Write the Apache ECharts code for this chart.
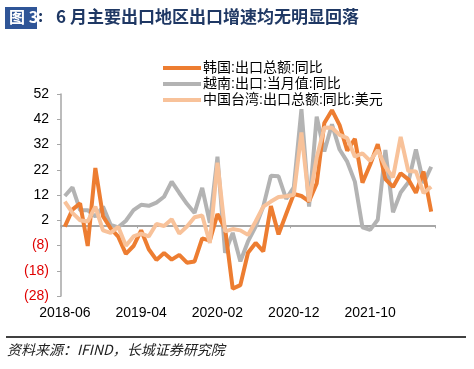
<!DOCTYPE html>
<html>
<head>
<meta charset="utf-8">
<script src="https://cdn.jsdelivr.net/npm/echarts@6/dist/echarts.min.js"></script>
<style>
html,body{margin:0;padding:0;background:#fff;}
#chart{width:474px;height:369px;}
</style>
</head>
<body>
<div id="chart"></div>
<script>
var months = ["2018-06","2018-07","2018-08","2018-09","2018-10","2018-11","2018-12",
"2019-01","2019-02","2019-03","2019-04","2019-05","2019-06","2019-07","2019-08","2019-09","2019-10","2019-11","2019-12",
"2020-01","2020-02","2020-03","2020-04","2020-05","2020-06","2020-07","2020-08","2020-09","2020-10","2020-11","2020-12",
"2021-01","2021-02","2021-03","2021-04","2021-05","2021-06","2021-07","2021-08","2021-09","2021-10","2021-11","2021-12",
"2022-01","2022-02","2022-03","2022-04","2022-05","2022-06"];

var korea = [-0.5,6.2,8.7,-8.2,22.7,3.6,-1.2,
-4.5,-11.3,-8.2,-2.0,-9.5,-13.7,-11.0,-13.6,-11.7,-14.8,-14.3,-5.2,
-6.1,4.5,-1.4,-25.1,-23.7,-10.9,-7.0,-10.3,7.6,-3.6,4.5,12.4,
11.6,9.5,16.6,40.5,45.6,39.7,29.6,34.2,16.9,24.0,32.1,18.3,
15.2,20.6,18.2,12.9,21.3,5.4];

var vietnam = [11.6,15.0,6.0,6.0,3.5,7.4,0.2,
-0.8,1.8,6.0,8.1,7.7,9.0,11.3,17.3,12.8,8.5,4.9,14.8,
1.0,27.2,-10.9,-3.0,-14.3,-6.4,-0.5,7.4,19.6,19.4,10.5,15.0,
46.0,7.4,43.0,29.2,40.0,30.0,25.2,17.3,-0.8,-1.8,2.2,29.8,
5.2,13.0,17.0,30.0,16.7,23.2];

var taiwan = [9.4,4.9,2.0,1.5,7.4,-2.0,-3.0,
-0.6,-8.1,-4.4,-3.3,-4.4,0.5,-0.3,2.4,-3.3,-0.5,3.2,3.9,
-7.0,24.8,-2.4,-1.5,-2.0,-3.8,1.5,7.4,9.4,11.2,11.5,12.1,
36.8,9.4,26.8,38.7,38.6,35.8,34.5,27.2,28.5,25.5,29.8,23.2,
19.0,35.0,21.5,21.3,12.8,15.3];

var seriesNames = ["韩国:出口总额:同比","越南:出口:当月值:同比","中国台湾:出口总额:同比:美元"];
var yMin = -28, yMax = 52, yStep = 10;

var chart = echarts.init(document.getElementById('chart'), null, {renderer:'canvas'});
var font = "'Liberation Sans', Arial, 'Noto Sans CJK SC', sans-serif";
var option = {
  animation:false,
  backgroundColor:'#fff',
  graphic:[
    {type:'rect', left:5, top:7, shape:{width:32,height:22}, style:{fill:'#2f5597'}},
    {type:'text', left:9, top:9, style:{text:'图 3', fill:'#fff', font:"bold 16px 'Noto Sans CJK SC', sans-serif"}},
    {type:'text', left:38, top:8, style:{text:':', fill:'#1f3864', font:"bold 16px 'Noto Sans CJK SC', sans-serif"}},
    {type:'text', left:56, top:8, style:{text:'6 月主要出口地区出口增速均无明显回落', fill:'#1f3864', font:"bold 17px 'Noto Sans CJK SC', sans-serif"}},
    {type:'line', shape:{x1:6,y1:337,x2:466,y2:337}, style:{stroke:'#000',lineWidth:1.5}},
    {type:'text', left:7, top:343, style:{text:'资料来源：IFIND，长城证券研究院', fill:'#222', font:"italic 14px 'Noto Sans CJK SC', sans-serif"}}
  ],
  legend:{
    data:seriesNames,
    orient:'vertical',
    left:158, top:56,
    itemWidth:38, itemHeight:4, itemGap:2,
    icon:'rect',
    textStyle:{fontSize:14, color:'#000', fontFamily:font, padding:[0,0,0,-3]}
  },
  grid:{left:61, right:39, top:94, bottom:73},
  xAxis:[{
    type:'category', data:months, boundaryGap:true,
    axisLine:{show:false, onZero:false},
    axisTick:{show:false},
    axisLabel:{interval:9, margin:10, fontSize:14, color:'#000', fontFamily:font}
  },{
    type:'category', data:months, boundaryGap:true,
    axisLine:{show:true, onZero:true, lineStyle:{color:'#a6a6a6', width:2}},
    axisTick:{show:true, inside:true, length:3, interval:9, lineStyle:{color:'#a6a6a6'}},
    axisLabel:{show:false}
  }],
  yAxis:{
    type:'value', min:yMin, max:yMax, interval:yStep,
    splitLine:{show:false},
    axisLine:{show:true, lineStyle:{color:'#a6a6a6', width:1.5}},
    axisTick:{show:true, length:4, lineStyle:{color:'#a6a6a6'}},
    axisLabel:{
      fontSize:14, fontFamily:font, margin:12,
      formatter:function(v){ return v<0 ? '('+Math.abs(v)+')' : String(v); },
      color:function(v){ return Number(v)<0 ? '#e00000' : '#000'; }
    }
  },
  series:[
    {name:seriesNames[1], type:'line', data:vietnam, showSymbol:false, symbol:'none',
     lineStyle:{color:'#b3b3b3', width:4}, itemStyle:{color:'#b3b3b3'}},
    {name:seriesNames[0], type:'line', data:korea, showSymbol:false, symbol:'none',
     lineStyle:{color:'#ed7d31', width:4}, itemStyle:{color:'#ed7d31'}},
    {name:seriesNames[2], type:'line', data:taiwan, showSymbol:false, symbol:'none',
     lineStyle:{color:'#f8c29a', width:4}, itemStyle:{color:'#f8c29a'}}
  ]
};
chart.setOption(option);
</script>
</body>
</html>
